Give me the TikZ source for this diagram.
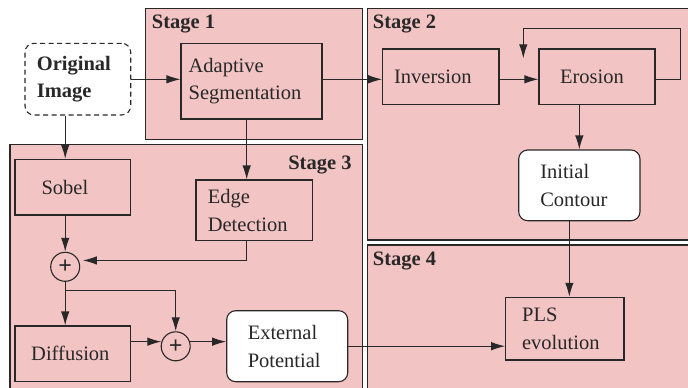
\documentclass[tikz,border=0pt]{standalone}
\usepackage{fontspec}
\setmainfont{Liberation Serif}
\usetikzlibrary{arrows.meta,calc}
\definecolor{stagepink}{RGB}{243,196,196}
\definecolor{edgegray}{RGB}{40,40,40}
\begin{document}
\begin{tikzpicture}[x=1pt,y=-1pt,
  txt/.style={font=\fontsize{20.5}{27.6}\selectfont, align=left, text=edgegray},
  stagebox/.style={draw=edgegray, line width=1.1pt, fill=stagepink},
  stagelabel/.style={font=\fontsize{20.5}{24}\selectfont\bfseries, text=edgegray, inner sep=0pt},
  procbox/.style={txt, draw=edgegray, line width=1.1pt, fill=stagepink, inner sep=0pt},
  softbox/.style={txt, draw=edgegray, line width=1.1pt, fill=white, rounded corners=9pt, inner sep=0pt},
  sumnode/.style={circle, draw=edgegray, line width=1.1pt, fill=stagepink, minimum size=29pt, inner sep=0pt,
    font=\fontsize{24}{24}\selectfont\bfseries, text=edgegray},
  arr/.style={draw=edgegray, line width=1.1pt, -{Latex[length=14pt,width=8.5pt]}},
  ln/.style={draw=edgegray, line width=1.1pt}
]
\useasboundingbox (0,0) rectangle (688,388);
\begin{scope}
\clip (0,0) rectangle (688,388);

% stage panels
\draw[stagebox] (145.7,8.3) rectangle (362.7,139.3);
\draw[stagebox] (367.3,8.3) rectangle (700,240);
\draw[stagebox] (10,144.3) rectangle (362.7,400);
\draw[stagebox] (367.3,245) rectangle (700,400);
\node[stagelabel, anchor=base west] (s1) at (151.7,28.3) {Stage 1};
\node[stagelabel, anchor=base west] (s2) at (372.7,28.3) {Stage 2};
\node[stagelabel, anchor=base east] (s3) at (351.7,169.5) {Stage 3};
\node[stagelabel, anchor=base west] (s4) at (372.7,265) {Stage 4};

% input
\node[txt, draw=edgegray, line width=1.1pt, dashed, dash pattern=on 5pt off 3.5pt, fill=white,
      rounded corners=9pt, inner sep=0pt, minimum width=105.7pt, minimum height=71.7pt,
      font=\fontsize{20.5}{27.6}\selectfont\bfseries] (orig) at (77.85,79.15) {Original\hspace*{8pt}\\Image};

% stage 1
\node[procbox, minimum width=141pt, minimum height=75.7pt] (adapt) at (251.5,81.15) {Adaptive\\Segmentation\hspace*{13pt}};

% stage 2
\node[procbox, minimum width=116.3pt, minimum height=55.3pt] (inv) at (440.85,76.65) {Inversion\hspace{16pt}};
\node[procbox, minimum width=116pt, minimum height=55.3pt] (ero) at (597,76.65) {Erosion\hspace{10pt}};
\node[softbox, minimum width=121.3pt, minimum height=70.7pt] (init) at (579.35,185.35) {Initial\\Contour\hspace*{11pt}};

% stage 3
\node[procbox, minimum width=115.7pt, minimum height=55.7pt] (sobel) at (72.85,187.15) {Sobel\hspace{16pt}};
\node[procbox, minimum width=116.3pt, minimum height=60.7pt] (edge) at (254.15,210.35) {Edge\\Detection\hspace*{13pt}};
\node[sumnode] (sum1) at (65.2,266.8) {+};
\node[procbox, minimum width=115.7pt, minimum height=55.7pt] (diff) at (72.85,353.85) {Diffusion\hspace{5pt}};
\node[sumnode] (sum2) at (175.7,346.3) {+};
\node[softbox, minimum width=121pt, minimum height=71pt] (ext) at (287.2,346.2) {External\\Potential\hspace*{6pt}};

% stage 4
\node[procbox, minimum width=118.3pt, minimum height=62.7pt] (pls) at (564.85,328.65) {PLS\\evolution\hspace*{8pt}};

% helper points for the routed connectors
\coordinate (loopTR) at (680.7,28.7);
\coordinate (loopEnd) at (523.3,58.3);
\coordinate (branch) at (65.2,290.7);
\coordinate (edgeOut) at (246.7,240.7);
\coordinate (sumIn) at ($(sum1.25)+(4pt,0)$);

% connectors
\draw[arr] (orig.east |- 0,79.3) -- (adapt.west |- 0,79.3);
\draw[arr] (adapt.east |- 0,79.3) -- (inv.west |- 0,79.3);
\draw[arr] (inv.east |- 0,79.3) -- (ero.west |- 0,79.3);
\draw[arr] (ero.east |- 0,79.3) -| (loopTR) -| (loopEnd);
\draw[arr] (init.north |- ero.south) -- (init.north);
\draw[arr] ([xshift=-10pt]init.south) -- ([xshift=-10pt]init.south |- pls.north);

\draw[arr] (sum1 |- orig.south) -- (sum1 |- sobel.north);
\draw[arr] (edgeOut |- adapt.south) -- (edgeOut |- edge.north);
\draw[arr] (sum1 |- sobel.south) -- (sum1.north);
\draw[arr] (edgeOut) |- (sumIn);
\draw[arr] (sum1.south) -- (sum1 |- diff.north);
\draw[arr] (branch) -| (sum2.north);
\draw[arr] (diff.east |- sum2.162) -- (sum2.162);
\draw[arr] (sum2.18) -- (sum2.18 -| ext.west);
\draw[arr] (ext.east) -- (ext.east -| pls.west);
\end{scope}
\end{tikzpicture}
\end{document}
